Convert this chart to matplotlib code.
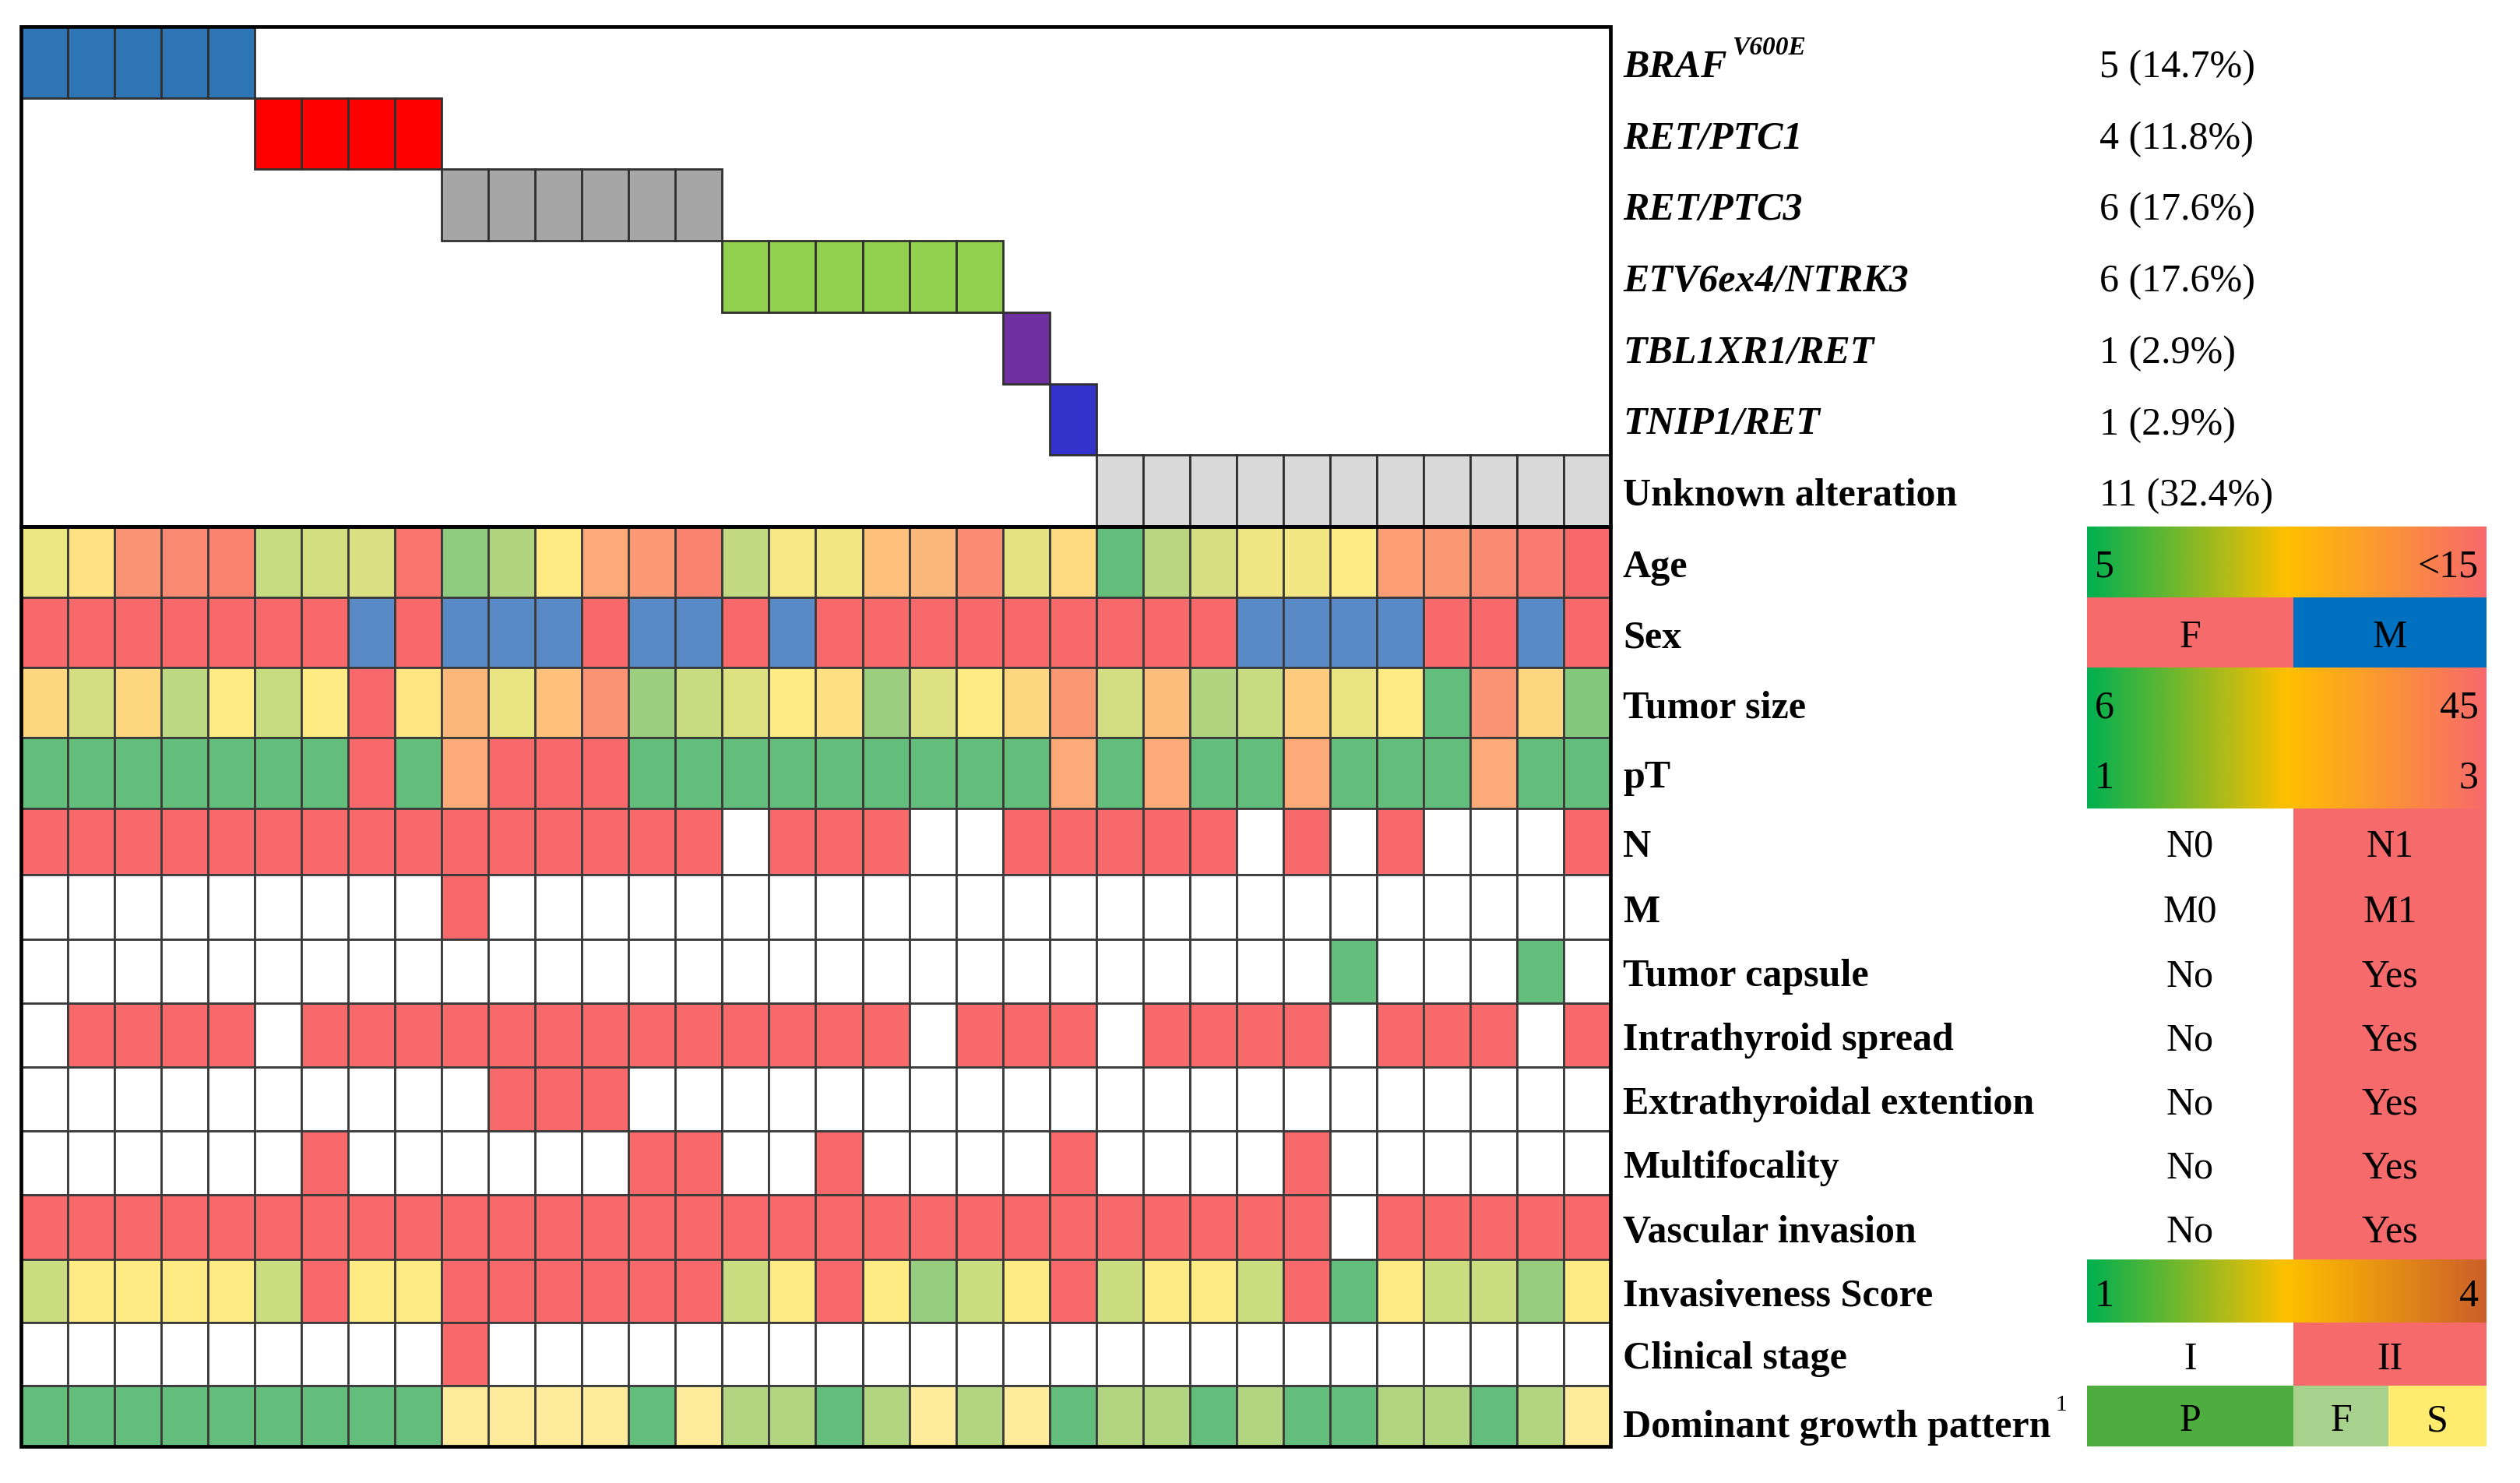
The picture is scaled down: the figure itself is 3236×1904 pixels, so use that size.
import matplotlib
matplotlib.use("Agg")
import matplotlib.pyplot as plt
from matplotlib.patches import Rectangle
from matplotlib.colors import LinearSegmentedColormap, to_rgb
import numpy as np

plt.rcParams["font.family"] = ["Liberation Serif", "DejaVu Serif"]

# ── Data ──────────────────────────────────────────────────────────────────────
alterations = ["BRAF", "RET/PTC1", "RET/PTC3", "ETV6ex4/NTRK3",
               "TBL1XR1/RET", "TNIP1/RET", "Unknown alteration"]
alt_counts = [5, 4, 6, 6, 1, 1, 11]
alt_colors = ["#2e75b6", "#ff0000", "#a6a6a6", "#92d050",
              "#7030a0", "#3333cc", "#d9d9d9"]

age = [9.4, 10.3, 13.4, 13.7, 14.0, 8.2, 8.6, 8.8, 14.5, 6.4, 7.5, 10.0,
       12.5, 13.1, 14.0, 8.0, 9.7, 9.6, 11.6, 12.0, 13.6, 9.1, 10.6, 5.0,
       7.8, 8.7, 9.5, 9.6, 10.0, 13.0, 13.2, 13.7, 14.3, 15.0]
sex = list("FFFFFFFMFMMMFMMFMFFFFFFFFFMMMMFFMF")
tumor_size = [24, 16, 24, 14, 20, 15, 20, 45, 21, 30, 18, 28, 37, 11, 15, 17,
              20, 22, 11, 17, 20, 24, 36, 16, 29, 13, 15, 26, 18, 20, 6, 37,
              24, 9]
pT = [1, 1, 1, 1, 1, 1, 1, 3, 1, 2, 3, 3, 3, 1, 1, 1, 1,
      1, 1, 1, 1, 1, 2, 1, 2, 1, 1, 2, 1, 1, 1, 2, 1, 1]
n_stage = [1, 1, 1, 1, 1, 1, 1, 1, 1, 1, 1, 1, 1, 1, 1, 0, 1,
           1, 1, 0, 0, 1, 1, 1, 1, 1, 0, 1, 0, 1, 0, 0, 0, 1]
m_stage = [0] * 9 + [1] + [0] * 24
capsule = [0] * 28 + [1, 0, 0, 0, 1, 0]
intrathyroid = [0, 1, 1, 1, 1, 0, 1, 1, 1, 1, 1, 1, 1, 1, 1, 1, 1,
                1, 1, 0, 1, 1, 1, 0, 1, 1, 1, 1, 0, 1, 1, 1, 0, 1]
extrathyroidal = [0] * 10 + [1, 1, 1] + [0] * 21
multifocality = [0, 0, 0, 0, 0, 0, 1, 0, 0, 0, 0, 0, 0, 1, 1, 0, 0,
                 1, 0, 0, 0, 0, 1, 0, 0, 0, 0, 1, 0, 0, 0, 0, 0, 0]
vascular = [1] * 28 + [0] + [1] * 5
invasiveness = [2.0, 2.5, 2.5, 2.5, 2.5, 2.0, 4.0, 2.5, 2.5, 4.0, 4.0, 4.0,
                4.0, 4.0, 4.0, 2.0, 2.5, 4.0, 2.5, 1.5, 2.0, 2.5, 4.0, 2.0,
                2.5, 2.5, 2.0, 4.0, 1.0, 2.5, 2.0, 2.0, 1.5, 2.5]
clinical_stage = [1] * 9 + [2] + [1] * 24
growth = list("PPPPPPPPPSSSSPSFFPFSFSPFFPFPPFFPFS")

n_pat = sum(alt_counts)

# ── Colours ───────────────────────────────────────────────────────────────────
GREEN, YELLOW, RED, BLUE = "#63be7b", "#ffeb84", "#f8696b", "#5a8ac6"
nodes = np.array([to_rgb(GREEN), to_rgb(YELLOW), to_rgb(RED)])


def scale3(v, lo, mid, hi):
    return tuple(np.interp(v, [lo, mid, hi], nodes[:, k]) for k in range(3))


def binary(vals, on=RED):
    return [on if v else "white" for v in vals]


growth_cols = {"P": GREEN, "F": "#b1d580", "S": "#ffeb9c"}

clin_rows = [
    ("Age", [scale3(v, 5, 10, 15) for v in age]),
    ("Sex", [RED if s == "F" else BLUE for s in sex]),
    ("Tumor size", [scale3(v, 6, 20, 45) for v in tumor_size]),
    ("pT", [scale3(v, 1, 1.001, 3) for v in pT]),
    ("N", binary(n_stage)),
    ("M", binary(m_stage)),
    ("Tumor capsule", binary(capsule, GREEN)),
    ("Intrathyroid spread", binary(intrathyroid)),
    ("Extrathyroidal extention", binary(extrathyroidal)),
    ("Multifocality", binary(multifocality)),
    ("Vascular invasion", binary(vascular)),
    ("Invasiveness Score", [scale3(v, 1, 2.5, 4) for v in invasiveness]),
    ("Clinical stage", binary([s == 2 for s in clinical_stage])),
    ("Dominant growth pattern", [growth_cols[g] for g in growth]),
]

# ── Layout (pixels) ───────────────────────────────────────────────────────────
W, H = 3236, 1904
X0, X1 = 27, 2068
CW = (X1 - X0) / n_pat
TOP_Y0, TOP_Y1 = 34, 676
TOP_H = (TOP_Y1 - TOP_Y0) / len(alterations)
clin_h = [91, 90, 90, 91, 85, 83, 82, 82, 82, 82, 83, 81, 81, 78]
clin_edges = TOP_Y1 + np.concatenate([[0], np.cumsum(clin_h)])
LABEL_X, COUNT_X = 2084, 2696
LG0, LGM, LG1 = 2680, 2945, 3193
FS = 36
DY = 7          # text sits a little below the row centre in the original
EDGE = "#3a3a3a"

fig = plt.figure(figsize=(W / 100, H / 100), dpi=100)
ax = fig.add_axes([0, 0, 1, 1])
ax.set_xlim(0, W)
ax.set_ylim(H, 0)
ax.axis("off")

# ── Top panel: alterations ────────────────────────────────────────────────────
alt_of_patient = np.repeat(np.arange(len(alterations)), alt_counts)
for j, a in enumerate(alt_of_patient):
    ax.add_patch(Rectangle((X0 + j * CW, TOP_Y0 + a * TOP_H), CW, TOP_H,
                           facecolor=alt_colors[a], edgecolor="#303030",
                           linewidth=2.0, zorder=2))
ax.add_patch(Rectangle((X0, TOP_Y0), X1 - X0, TOP_Y1 - TOP_Y0, fill=False,
                       edgecolor="black", linewidth=3.4, zorder=5))

for a, (name, cnt) in enumerate(zip(alterations, alt_counts)):
    yc = TOP_Y0 + (a + 0.5) * TOP_H + DY
    style = "normal" if name.startswith("Unknown") else "italic"
    t = ax.text(LABEL_X, yc, name, fontsize=FS, fontweight="bold",
                fontstyle=style, va="center", ha="left")
    if a == 0:
        ax.annotate("V600E", xy=(1, 0.72), xycoords=t, xytext=(5, 0),
                    textcoords="offset points", fontsize=24,
                    fontweight="bold", fontstyle="italic",
                    va="bottom", ha="left")
    ax.text(COUNT_X, yc, f"{cnt} ({100 * cnt / n_pat:.1f}%)", fontsize=FS,
            va="center", ha="left")

# ── Clinical grid ─────────────────────────────────────────────────────────────
for i, (label, cols) in enumerate(clin_rows):
    y0, y1 = clin_edges[i], clin_edges[i + 1]
    for j, c in enumerate(cols):
        ax.add_patch(Rectangle((X0 + j * CW, y0), CW, y1 - y0, facecolor=c,
                               edgecolor=EDGE, linewidth=2.0, zorder=2))
    dy = DY * 2.2 if label.startswith("Dominant") else DY
    t = ax.text(LABEL_X, (y0 + y1) / 2 + dy, label, fontsize=FS,
                fontweight="bold", va="center", ha="left")
    if label.startswith("Dominant"):
        ax.annotate("1", xy=(1, 0.85), xycoords=t, xytext=(4, 0),
                    textcoords="offset points", fontsize=21,
                    va="bottom", ha="left")
ax.add_patch(Rectangle((X0, TOP_Y1), X1 - X0, clin_edges[-1] - TOP_Y1,
                       fill=False, edgecolor="black", linewidth=3.4, zorder=5))

# ── Legend column ─────────────────────────────────────────────────────────────
LG_RED = "#f66a6b"
grad = np.linspace(0, 1, 512).reshape(1, -1)
cmap_std = LinearSegmentedColormap.from_list("g", ["#00b050", "#ffc000", "#f8696b"])
cmap_inv = LinearSegmentedColormap.from_list("i", ["#00b050", "#ffc000", "#cc5f29"])

grad_rows = {"Age": ("5", "<15", cmap_std),
             "Tumor size": ("6", "45", cmap_std),
             "pT": ("1", "3", cmap_std),
             "Invasiveness Score": ("1", "4", cmap_inv)}
two_rows = {"Sex": ("F", "M", LG_RED, "#0070c0"),
            "N": ("N0", "N1", "white", LG_RED),
            "M": ("M0", "M1", "white", LG_RED),
            "Tumor capsule": ("No", "Yes", "white", LG_RED),
            "Intrathyroid spread": ("No", "Yes", "white", LG_RED),
            "Extrathyroidal extention": ("No", "Yes", "white", LG_RED),
            "Multifocality": ("No", "Yes", "white", LG_RED),
            "Vascular invasion": ("No", "Yes", "white", LG_RED),
            "Clinical stage": ("I", "II", "white", LG_RED)}
growth_legend = [("P", "#4ead3f"), ("F", "#a9d18e"), ("S", "#ffeb6e")]
growth_split = [LG0, LGM, 3067, LG1]

for i, (label, _) in enumerate(clin_rows):
    y0, y1 = clin_edges[i], clin_edges[i + 1]
    yc = (y0 + y1) / 2 + DY
    if label in grad_rows:
        lt, rt, cm = grad_rows[label]
        ax.imshow(grad, cmap=cm, aspect="auto", extent=(LG0, LG1, y1, y0),
                  zorder=1, interpolation="bilinear")
        ax.text(LG0 + 10, yc, lt, fontsize=FS, va="center", ha="left")
        ax.text(LG1 - 10, yc, rt, fontsize=FS, va="center", ha="right")
    elif label in two_rows:
        lt, rt, lc, rc = two_rows[label]
        ax.add_patch(Rectangle((LG0, y0), LGM - LG0, y1 - y0, facecolor=lc,
                               edgecolor="none", zorder=1))
        ax.add_patch(Rectangle((LGM, y0), LG1 - LGM, y1 - y0, facecolor=rc,
                               edgecolor="none", zorder=1))
        ax.text((LG0 + LGM) / 2, yc, lt, fontsize=FS, va="center", ha="center")
        ax.text((LGM + LG1) / 2, yc, rt, fontsize=FS, va="center", ha="center")
    else:
        for k, (g, c) in enumerate(growth_legend):
            xa, xb = growth_split[k], growth_split[k + 1]
            ax.add_patch(Rectangle((xa, y0), xb - xa, y1 - y0, facecolor=c,
                                   edgecolor="none", zorder=1))
            ax.text((xa + xb) / 2, yc, g, fontsize=FS, va="center",
                    ha="center")

ax.set_xlim(0, W)
ax.set_ylim(H, 0)
fig.savefig("out.png", dpi=100, facecolor="white")
